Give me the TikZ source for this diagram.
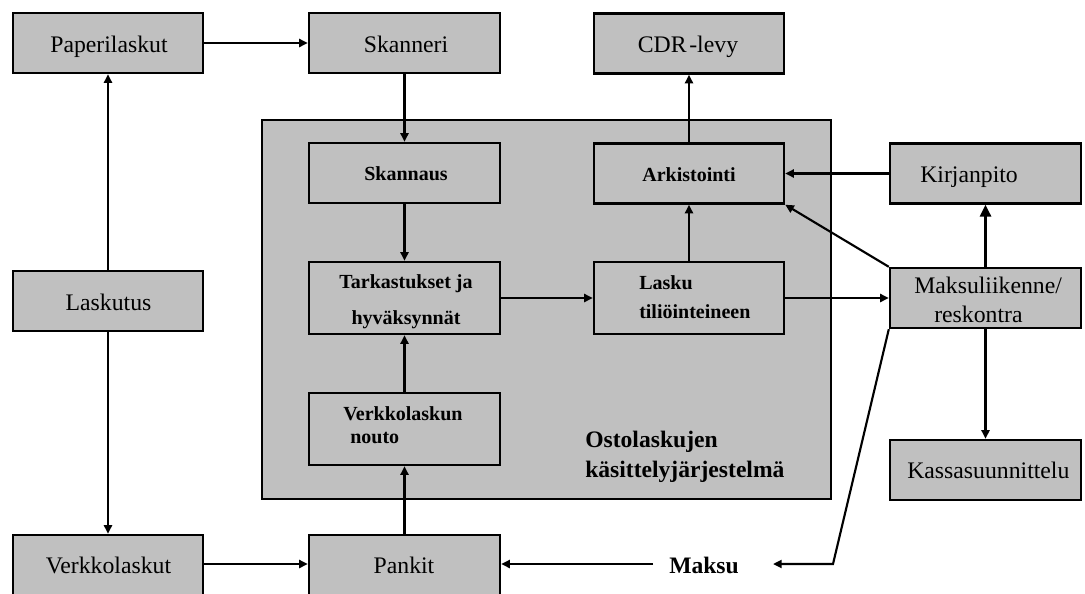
\documentclass[tikz,border=0pt]{standalone}
\usepackage{fontspec}
\setmainfont{Liberation Serif}
\usetikzlibrary{arrows.meta}
\definecolor{boxgray}{RGB}{192,192,192}
\begin{document}
\begin{tikzpicture}[x=0.75pt,y=-0.75pt,
 box/.style={draw, fill=boxgray, line width=1.8pt, inner sep=0},
 conn/.style={line width=1.6pt, -{Triangle[length=6.5pt,width=6pt]}},
 bigconn/.style={line width=1.6pt, -{Triangle[length=9pt,width=8.5pt]}},
 reg/.style={font=\fontsize{17.8pt}{21pt}\selectfont, inner sep=0, anchor=base},
 bsm/.style={font=\bfseries\fontsize{15pt}{18pt}\selectfont, inner sep=0, anchor=base},
 bbig/.style={font=\bfseries\fontsize{17.7pt}{21pt}\selectfont, inner sep=0, anchor=base west}]
\useasboundingbox (0,0) rectangle (1085,593);
\clip (0,0) rectangle (1085,593);
% boxes
\node[box, minimum width=426.75pt, minimum height=284.25pt] (sys) at (546.5,309.5) {};
\node[box, minimum width=142.5pt, minimum height=45pt] (pap) at (108,43) {};
\node[box, minimum width=143.25pt, minimum height=45pt] (skan) at (404.5,43) {};
\node[box, minimum width=142.5pt, minimum height=45pt] (cdr) at (689,43.5) {};
\node[box, minimum width=143.25pt, minimum height=45pt] (skannaus) at (404.5,173) {};
\node[box, minimum width=142.5pt, minimum height=45pt] (ark) at (689,173.5) {};
\node[box, minimum width=143.25pt, minimum height=45pt] (kirj) at (985.5,173.5) {};
\node[box, minimum width=143.25pt, minimum height=54pt] (tark) at (404.5,298) {};
\node[box, minimum width=142.5pt, minimum height=54pt] (lasku) at (689,298) {};
\node[box, minimum width=143.25pt, minimum height=54pt] (nouto) at (404.5,429) {};
\node[box, minimum width=142.5pt, minimum height=45pt] (laskutus) at (108,301) {};
\node[box, minimum width=143.25pt, minimum height=45pt] (maks) at (985.5,298) {};
\node[box, minimum width=143.25pt, minimum height=45pt] (kassa) at (985.5,470) {};
\node[box, minimum width=142.5pt, minimum height=52.5pt] (verk) at (108,570) {};
\node[box, minimum width=143.25pt, minimum height=52.5pt] (pankit) at (404.5,570) {};
% texts
\node[reg] (t-pap) at (109,52) {Paperilaskut};
\node[reg] (t-skan) at (406,52) {Skanneri};
\node[reg] (t-cdr) at (688,52) {CDR\kern2pt-levy};
\node[bsm] (t-skannaus) at (406,180) {Skannaus};
\node[bsm] (t-ark) at (689,181) {Arkistointi};
\node[reg, anchor=base west] (t-kirj) at (920,182) {Kirjanpito};
\node[reg] (t-laskutus) at (108.5,310) {Laskutus};
\node[bsm] (t-tark1) at (406,288) {Tarkastukset ja};
\node[bsm] (t-tark2) at (406,324) {hyväksynnät};
\node[bsm, anchor=base west] (t-lasku1) at (639,289) {Lasku};
\node[bsm, anchor=base west] (t-lasku2) at (639,318) {tiliöinteineen};
\node[bsm, anchor=base west] (t-nouto1) at (343,420) {Verkkolaskun};
\node[bsm, anchor=base west] (t-nouto2) at (350,443) {nouto};
\node[bbig] (t-sys1) at (585,447) {Ostolaskujen};
\node[bbig] (t-sys2) at (585,477) {käsittelyjärjestelmä};
\node[bbig] (maksu) at (669,573) {Maksu};
\node[reg, anchor=base west] (t-maks1) at (914,293) {Maksuliikenne/};
\node[reg, anchor=base west] (t-maks2) at (934,322) {reskontra};
\node[reg, anchor=base west] (t-kassa) at (907,478) {Kassasuunnittelu};
\node[reg] (t-verk) at (108.5,573) {Verkkolaskut};
\node[reg] (t-pankit) at (404,573) {Pankit};
% connectors
\coordinate (row) at (0,564);
\coordinate (bend) at (833,564);
\draw[conn] (pap) -- (skan);
\draw[conn] (laskutus) -- (pap);
\draw[conn] (laskutus) -- (verk);
\draw[conn] (skan) -- (skannaus);
\draw[conn] (skannaus) -- (tark);
\draw[conn] (nouto) -- (tark);
\draw[conn] (pankit) -- (nouto);
\draw[conn] (verk.east |- row) -- (pankit.west |- row);
\draw[conn] (tark) -- (lasku);
\draw[conn] (lasku) -- (ark);
\draw[conn] (ark) -- (cdr);
\draw[conn] (kirj) -- (ark);
\draw[conn] (lasku) -- (maks);
\draw[conn] (maks.north west) -- (ark.south east);
\draw[bigconn] (maks) -- (kirj);
\draw[conn] (maks) -- (kassa);
\draw[conn] ([xshift=-12pt]maksu.west |- row) -- (pankit.east |- row);
\draw[conn] (maks.south west) -- (bend) -- ([xshift=25.5pt]maksu.east |- row);
\end{tikzpicture}
\end{document}
